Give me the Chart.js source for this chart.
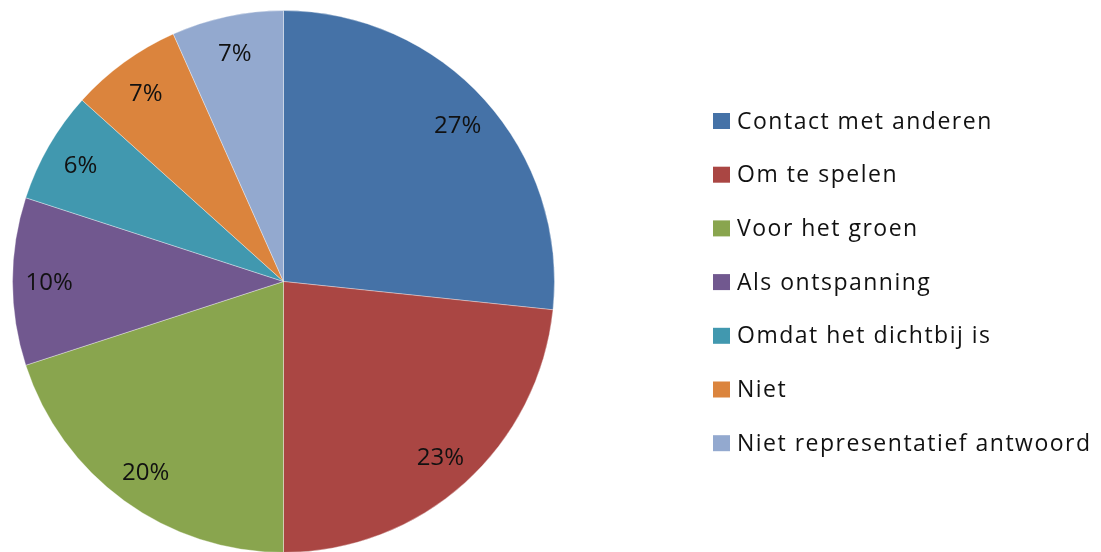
<!DOCTYPE html>
<html>
<head>
<meta charset="utf-8">
<script src="https://cdn.jsdelivr.net/npm/chart.js@4/dist/chart.umd.min.js"></script>
<style>
  html, body { margin: 0; padding: 0; background: #ffffff; overflow: hidden; }
  #wrap { width: 1101px; height: 552px; overflow: hidden; position: relative; }
  canvas { display: block; }
</style>
</head>
<body>
<div id="wrap"><canvas id="c" width="1101" height="555"></canvas></div>
<script>
// ---- data ----
const categories = [
  "Contact met anderen",
  "Om te spelen",
  "Voor het groen",
  "Als ontspanning",
  "Omdat het dichtbij is",
  "Niet",
  "Niet representatief antwoord"
];
const counts = [8, 7, 6, 3, 2, 2, 2];
const percentLabels = ["27%", "23%", "20%", "10%", "6%", "7%", "7%"];
const sliceColors = ["#4572A7", "#AA4643", "#89A54E", "#71588F", "#4198AF", "#DB843D", "#93A9CF"];

// ---- style ----
const LABEL_FONT = "24px 'Open Sans'";
const LEGEND_FONT = "23px 'Open Sans'";
const TEXT_COLOR = "#111111";

const dataLabelPlugin = {
  id: "dataLabels",
  afterDatasetsDraw(chart) {
    const ctx = chart.ctx;
    const meta = chart.getDatasetMeta(0);
    ctx.save();
    ctx.font = LABEL_FONT;
    ctx.fillStyle = TEXT_COLOR;
    ctx.textAlign = "center";
    ctx.textBaseline = "middle";
    meta.data.forEach((arc, i) => {
      const p = arc.getProps(["x", "y", "startAngle", "endAngle", "outerRadius"], true);
      const mid = (p.startAngle + p.endAngle) / 2;
      const d = p.outerRadius * 0.865;
      ctx.fillText(percentLabels[i], p.x + Math.cos(mid) * d, p.y + Math.sin(mid) * d + 2);
    });
    ctx.restore();
  }
};

const legendPlugin = {
  id: "sideLegend",
  afterDraw(chart) {
    const ctx = chart.ctx;
    const x0 = 713, y0 = 121, step = 53.7, box = 16;
    ctx.save();
    ctx.font = LEGEND_FONT;
    if ('letterSpacing' in ctx) ctx.letterSpacing = "1.5px";
    ctx.textAlign = "left";
    ctx.textBaseline = "middle";
    chart.data.labels.forEach((lab, i) => {
      const y = y0 + i * step;
      ctx.fillStyle = chart.data.datasets[0].backgroundColor[i];
      ctx.fillRect(x0, y - box / 2, box + 1, box);
      ctx.fillStyle = TEXT_COLOR;
      ctx.fillText(lab, x0 + 24, y + 1);
    });
    ctx.restore();
  }
};

new Chart(document.getElementById("c"), {
  type: "pie",
  data: {
    labels: categories,
    datasets: [{
      data: counts,
      backgroundColor: sliceColors,
      borderColor: "rgba(255,255,255,0.35)",
      borderWidth: 1
    }]
  },
  options: {
    responsive: false,
    animation: false,
    devicePixelRatio: 1,
    layout: { padding: { left: 12, right: 546, top: 10, bottom: 2 } },
    plugins: {
      legend: { display: false },
      tooltip: { enabled: false }
    }
  },
  plugins: [dataLabelPlugin, legendPlugin]
});
</script>
</body>
</html>
